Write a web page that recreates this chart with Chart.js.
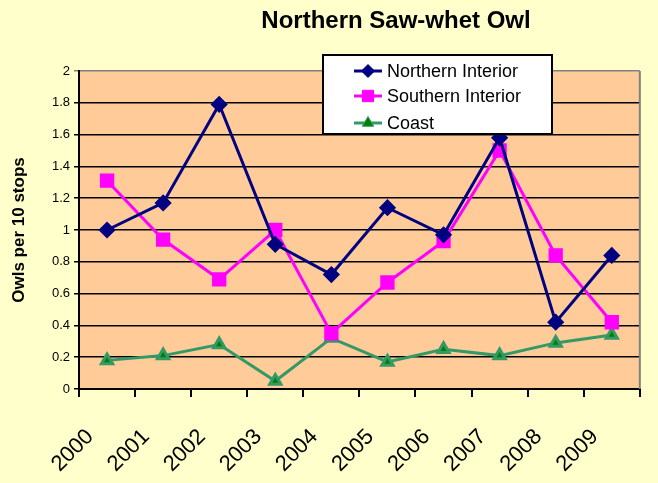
<!DOCTYPE html>
<html>
<head>
<meta charset="utf-8">
<script src="https://cdn.jsdelivr.net/npm/chart.js@4/dist/chart.umd.min.js"></script>
<style>
  html, body { margin: 0; padding: 0; background: #FFFFCC; }
  #wrap { width: 658px; height: 483px; }
</style>
</head>
<body>
<div id="wrap"><canvas id="owls"></canvas></div>
<script>
const years = ["2000", "2001", "2002", "2003", "2004", "2005", "2006", "2007", "2008", "2009"];
const northernInterior = [1.0, 1.17, 1.79, 0.91, 0.72, 1.14, 0.97, 1.58, 0.42, 0.84];
const southernInterior = [1.31, 0.94, 0.69, 1.0, 0.35, 0.67, 0.93, 1.5, 0.84, 0.42];
const coast = [0.18, 0.21, 0.28, 0.05, 0.32, 0.17, 0.25, 0.21, 0.29, 0.34];
const yTicks = [0, 0.2, 0.4, 0.6, 0.8, 1, 1.2, 1.4, 1.6, 1.8, 2];

const FONT = "Arial, 'Liberation Sans', sans-serif";

// paints the page colour, plot colour and the grey plot frame
const backdrop = {
  id: "backdrop",
  beforeDraw(chart) {
    const ctx = chart.ctx, a = chart.chartArea;
    ctx.save();
    ctx.fillStyle = "#FFFFCC";
    ctx.fillRect(0, 0, chart.width, chart.height);
    ctx.fillStyle = "#FFCC99";
    ctx.fillRect(a.left, a.top, a.right - a.left, a.bottom - a.top);
    ctx.restore();
  },
  beforeDatasetsDraw(chart) {
    const ctx = chart.ctx, a = chart.chartArea;
    ctx.save();
    ctx.strokeStyle = "#808080";
    ctx.lineWidth = 2;
    ctx.beginPath();
    ctx.moveTo(a.right, a.top);
    ctx.lineTo(a.right, a.bottom);
    ctx.stroke();
    ctx.restore();
  }
};

// same shapes as chart.js point styles, for the legend
function marker(ctx, style, x, y, r, fill, stroke) {
  ctx.fillStyle = fill;
  ctx.strokeStyle = stroke;
  ctx.lineWidth = 1;
  ctx.beginPath();
  if (style === "rectRot") {
    ctx.moveTo(x, y - r); ctx.lineTo(x + r, y); ctx.lineTo(x, y + r); ctx.lineTo(x - r, y);
  } else if (style === "rect") {
    const s = r * Math.SQRT1_2;
    ctx.rect(x - s, y - s, 2 * s, 2 * s);
  } else {
    const dx = r * Math.sin(Math.PI / 3), dy = r * 0.5;
    ctx.moveTo(x, y - r); ctx.lineTo(x + dx, y + dy); ctx.lineTo(x - dx, y + dy);
  }
  ctx.closePath();
  ctx.fill();
  ctx.stroke();
}

// title and boxed legend placed like the original
const decor = {
  id: "decor",
  afterDraw(chart) {
    const ctx = chart.ctx;
    ctx.save();
    ctx.fillStyle = "#000";
    ctx.font = "bold 24px " + FONT;
    ctx.textAlign = "center";
    ctx.textBaseline = "middle";
    ctx.fillText("Northern Saw-whet Owl", 396, 21);

    ctx.fillStyle = "#fff";
    ctx.fillRect(323, 55, 229, 79);
    ctx.strokeStyle = "#000";
    ctx.lineWidth = 2;
    ctx.strokeRect(323, 55, 229, 79);

    const rows = [71, 96, 123];
    ctx.font = "18px " + FONT;
    ctx.textAlign = "left";
    chart.data.datasets.forEach((ds, i) => {
      const y = rows[i];
      ctx.strokeStyle = ds.borderColor;
      ctx.lineWidth = 3;
      ctx.beginPath();
      ctx.moveTo(354, y);
      ctx.lineTo(382, y);
      ctx.stroke();
      marker(ctx, ds.pointStyle, 368, y, ds.pointRadius, ds.pointBackgroundColor, ds.pointBorderColor);
      ctx.fillStyle = "#000";
      ctx.fillText(ds.label, 387, y + 1);
    });
    ctx.restore();
  }
};

new Chart(document.getElementById("owls"), {
  type: "line",
  data: {
    labels: years,
    datasets: [
      {
        label: "Northern Interior",
        data: northernInterior,
        borderColor: "#000080",
        borderWidth: 3,
        pointStyle: "rectRot",
        pointRadius: 6.5,
        pointBackgroundColor: "#000080",
        pointBorderColor: "#000080",
        tension: 0
      },
      {
        label: "Southern Interior",
        data: southernInterior,
        borderColor: "#FF00FF",
        borderWidth: 3,
        pointStyle: "rect",
        pointRadius: 8,
        pointBackgroundColor: "#FF00FF",
        pointBorderColor: "#FF00FF",
        tension: 0
      },
      {
        label: "Coast",
        data: coast,
        borderColor: "#339966",
        borderWidth: 3,
        pointStyle: "triangle",
        pointRadius: 6.5,
        pointBackgroundColor: "#008000",
        pointBorderColor: "#339966",
        tension: 0
      }
    ]
  },
  options: {
    responsive: true,
    maintainAspectRatio: false,
    animation: false,
    layout: { padding: { top: 71, right: 3, left: 0, bottom: 0 } },
    plugins: {
      legend: { display: false },
      title: { display: false },
      tooltip: { enabled: false }
    },
    scales: {
      x: {
        offset: true,
        grid: {
          offset: true,
          drawOnChartArea: false,
          drawTicks: true,
          tickLength: 8,
          color: "#000",
          lineWidth: 2
        },
        border: { color: "#000", width: 2 },
        ticks: {
          color: "#000",
          font: { family: FONT, size: 22 },
          minRotation: 45,
          maxRotation: 45,
          autoSkip: false,
          padding: 27,
          labelOffset: -17
        },
        afterFit(scale) { scale.height = 94; }
      },
      y: {
        min: 0,
        max: 2,
        afterBuildTicks(scale) { scale.ticks = yTicks.map(v => ({ value: v })); },
        grid: {
          color: ctx => (ctx.tick && ctx.tick.value === 2 ? "#808080" : "#000"),
          lineWidth: 1.5,
          tickLength: 5,
          drawTicks: true
        },
        border: { color: "#000", width: 2 },
        ticks: {
          color: "#000",
          font: { family: FONT, size: 13 },
          padding: 4,
          callback: v => String(v)
        },
        title: {
          display: true,
          text: "Owls per 10 stops",
          color: "#000",
          font: { family: FONT, size: 17, weight: "bold" },
          padding: { top: 9, bottom: 4 }
        },
        afterFit(scale) { scale.width = 79; }
      }
    }
  },
  plugins: [backdrop, decor]
});
</script>
</body>
</html>
